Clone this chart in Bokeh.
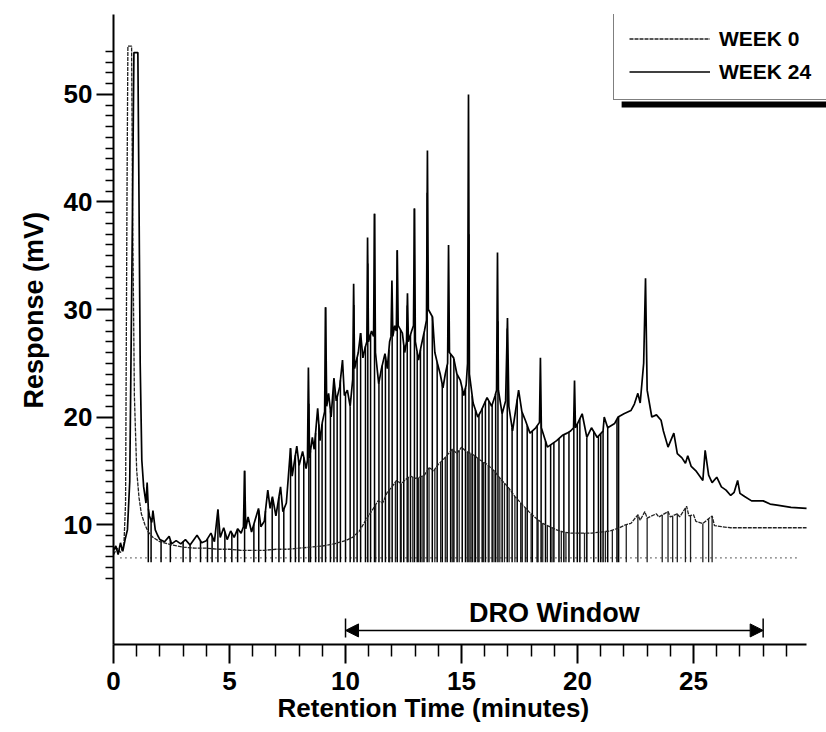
import numpy as np
from bokeh.plotting import figure
from bokeh.models import (Range1d, FixedTicker, Legend, LegendItem, Arrow, NormalHead,
                          Label, BoxAnnotation, Title)
from bokeh.embed import file_html
from bokeh.resources import INLINE

# ---------------- data ----------------
series_names = ["WEEK 0", "WEEK 24"]

week24_time = [0.0, 0.1, 0.2, 0.3, 0.4, 0.5, 0.6, 0.7, 0.8, 0.88,
               1.05, 1.1, 1.15, 1.22, 1.3, 1.4, 1.45, 1.5, 1.55, 1.65,
               1.7, 1.8, 1.9, 2.0, 2.2, 2.4, 2.5, 2.7, 2.9, 3.1,
               3.3, 3.6, 3.8, 4.0, 4.2, 4.35, 4.5, 4.6, 4.75, 4.9,
               5.05, 5.2, 5.35, 5.5, 5.6, 5.65, 5.7, 5.8, 5.95, 6.1,
               6.25, 6.35, 6.5, 6.65, 6.75, 6.85, 7.0, 7.2, 7.3, 7.45,
               7.63, 7.7, 7.9, 8.0, 8.15, 8.3, 8.36, 8.4, 8.45, 8.57,
               8.65, 8.8, 8.9, 9.0, 9.1, 9.14, 9.19, 9.27, 9.38, 9.5,
               9.6, 9.75, 9.87, 9.95, 10.08, 10.2, 10.31, 10.35, 10.39, 10.55,
               10.65, 10.75, 10.85, 10.92, 10.95, 10.99, 11.12, 11.21, 11.25, 11.29,
               11.43, 11.55, 11.7, 11.8, 11.9, 11.96, 12.0, 12.04, 12.12, 12.19,
               12.23, 12.27, 12.45, 12.55, 12.63, 12.67, 12.71, 12.85, 12.93, 12.97,
               13.01, 13.15, 13.25, 13.4, 13.49, 13.53, 13.57, 13.75, 13.85, 13.96,
               14.08, 14.2, 14.3, 14.4, 14.44, 14.48, 14.66, 14.8, 14.95, 15.1,
               15.2, 15.26, 15.3, 15.34, 15.5, 15.7, 15.85, 16.1, 16.3, 16.45,
               16.51, 16.55, 16.59, 16.75, 16.9, 16.98, 17.04, 17.2, 17.46, 17.6,
               17.75, 17.95, 18.2, 18.36, 18.4, 18.44, 18.7, 18.9, 19.1, 19.35,
               19.55, 19.7, 19.83, 19.87, 19.91, 20.2, 20.4, 20.6, 20.85, 21.1,
               21.15, 21.3, 21.6, 21.75, 22.0, 22.3, 22.45, 22.6, 22.7, 22.85,
               22.93, 23.0, 23.2, 23.4, 23.6, 23.7, 23.9, 24.15, 24.3, 24.5,
               24.65, 24.75, 24.9, 25.1, 25.4, 25.5, 25.65, 25.8, 26.0, 26.2,
               26.4, 26.6, 26.75, 26.9, 27.0, 27.2, 27.5, 28.0, 28.3, 28.6,
               29.2, 29.87]
week24_mv = [7.6, 8.0, 7.2, 8.3, 7.5, 8.6, 9.5, 14.0, 35.0, 53.9,
             53.9, 40.0, 25.0, 16.0, 13.5, 12.0, 13.9, 11.5, 10.8, 10.2,
             11.3, 9.5, 9.0, 8.6, 8.4, 8.9, 8.2, 8.5, 8.2, 8.6,
             8.1, 9.0, 8.3, 8.5, 9.2, 8.4, 11.4, 8.8, 9.7, 8.6,
             9.4, 8.8, 9.6, 9.2, 9.8, 15.0, 9.6, 10.7, 9.3, 10.4,
             11.5, 9.8, 10.3, 13.2, 11.5, 12.6, 10.8, 13.5, 11.2, 12.0,
             17.1, 14.5, 17.3, 15.5, 16.8, 15.2, 16.0, 24.6, 16.2, 18.1,
             17.0, 20.8, 17.8, 19.5, 20.5, 30.2, 21.0, 22.2, 20.0, 23.6,
             21.5, 22.8, 25.3, 22.0, 22.5, 21.0, 23.5, 32.4, 24.5, 26.0,
             27.8, 25.5, 26.5, 27.0, 36.7, 27.0, 28.0, 27.5, 38.9, 26.0,
             23.1, 24.5, 25.9, 24.5, 27.0, 27.5, 32.7, 27.5, 28.5, 28.0,
             35.5, 28.5, 27.8, 26.0, 27.0, 31.5, 27.0, 28.0, 28.5, 39.4,
             27.0, 25.3, 26.5, 28.0, 29.0, 44.8, 30.0, 29.3, 26.0, 25.0,
             24.0, 22.7, 24.0, 25.0, 36.0, 26.0, 25.5, 24.0, 23.4, 22.0,
             23.0, 25.0, 50.0, 24.0, 21.3, 20.0, 20.6, 21.8, 21.0, 22.0,
             22.5, 35.3, 22.5, 20.3, 21.5, 29.2, 21.0, 18.7, 22.5, 20.5,
             19.7, 18.5, 19.0, 19.5, 25.5, 19.0, 17.2, 17.5, 17.8, 18.3,
             18.5, 18.7, 19.0, 23.4, 19.0, 20.3, 18.1, 19.0, 18.1, 18.7,
             20.0, 19.0, 19.4, 20.0, 20.3, 20.6, 21.2, 22.2, 21.3, 25.0,
             32.9, 22.5, 20.0, 20.2, 19.7, 18.7, 17.2, 18.5, 16.6, 16.2,
             15.7, 16.4, 15.4, 15.0, 14.1, 16.9, 14.6, 13.9, 14.4, 13.5,
             13.2, 12.7, 13.0, 14.1, 12.9, 12.6, 12.2, 12.2, 11.9, 11.8,
             11.6, 11.5]
# retention times of the drop lines of WEEK 24
week24_drops = [1.5, 1.62, 2.05, 2.45, 3.0, 3.3, 3.75, 4.05, 4.25, 4.5,
                4.8, 5.1, 5.35, 5.65, 6.05, 6.26, 6.55, 6.84, 7.13, 7.34,
                7.63, 7.84, 7.99, 8.2, 8.42, 8.49, 8.71, 8.85, 8.99, 9.14,
                9.35, 9.5, 9.64, 9.78, 10.0, 10.2, 10.36, 10.5, 10.65, 10.86,
                10.96, 11.08, 11.25, 11.44, 11.58, 11.72, 11.87, 12.01, 12.23, 12.37,
                12.51, 12.66, 12.8, 12.97, 13.09, 13.23, 13.38, 13.52, 13.74, 13.95,
                14.17, 14.38, 14.53, 14.67, 14.81, 15.03, 15.17, 15.32, 15.46, 15.6,
                15.75, 15.89, 16.03, 16.18, 16.32, 16.47, 16.57, 16.75, 16.97, 17.18,
                17.4, 17.61, 17.83, 18.05, 18.26, 18.43, 18.62, 18.84, 18.98, 19.2,
                19.41, 19.63, 19.84, 19.99, 20.1, 20.4, 20.7, 20.9, 21.0, 21.1,
                21.3, 21.7, 21.77]

week0_time = [0.0, 0.15, 0.3, 0.45, 0.52, 0.58, 0.62, 0.78, 0.82, 0.9,
              1.0, 1.1, 1.2, 1.35, 1.5, 1.7, 2.0, 2.5, 3.0, 3.5,
              4.0, 4.5, 5.0, 5.5, 6.0, 6.5, 7.0, 7.5, 8.0, 8.5,
              9.0, 9.5, 10.0, 10.3, 10.6, 10.9, 11.2, 11.4, 11.6, 11.8,
              12.0, 12.2, 12.4, 12.6, 12.8, 13.0, 13.2, 13.4, 13.6, 13.8,
              14.0, 14.2, 14.4, 14.6, 14.8, 15.0, 15.2, 15.5, 15.8, 16.1,
              16.4, 16.7, 17.0, 17.3, 17.6, 17.9, 18.2, 18.5, 18.8, 19.1,
              19.4, 19.7, 20.0, 20.3, 20.6, 21.0, 21.4, 21.8, 22.1, 22.3,
              22.6, 22.7, 22.9, 23.0, 23.4, 23.5, 23.9, 24.0, 24.3, 24.4,
              24.7, 24.8, 25.0, 25.1, 25.4, 25.8, 25.9, 26.2, 26.6, 27.5,
              28.5, 29.87]
week0_mv = [7.2, 7.8, 7.4, 8.2, 12.0, 40.0, 54.5, 54.5, 40.0, 22.0,
            15.0, 12.5, 11.0, 10.0, 9.3, 8.8, 8.4, 8.1, 7.9, 7.8,
            7.8, 7.7, 7.7, 7.6, 7.6, 7.6, 7.7, 7.7, 7.8, 7.9,
            8.0, 8.2, 8.5, 8.8, 9.4, 10.5, 11.5, 12.2, 12.0, 13.0,
            13.5, 14.1, 13.8, 14.2, 14.5, 14.3, 14.4, 14.6, 15.3, 15.0,
            15.6, 16.0, 16.5, 17.0, 16.6, 17.2, 16.8, 16.5, 16.0, 15.6,
            15.0, 14.2, 13.5, 12.6, 11.9, 11.2, 10.6, 10.1, 9.8, 9.5,
            9.3, 9.2, 9.2, 9.2, 9.2, 9.3, 9.4, 9.7, 10.0, 10.1,
            10.9, 10.4, 11.2, 10.6, 11.0, 10.7, 11.2, 10.7, 11.0, 10.7,
            11.7, 10.8, 10.9, 10.3, 10.1, 10.8, 9.9, 9.8, 9.7, 9.7,
            9.7, 9.7]
# retention times of the drop lines of WEEK 0
week0_drops = [11.3, 11.9, 12.15, 12.4, 12.7, 12.9, 13.15, 13.3, 13.6, 13.85,
               14.1, 14.3, 14.6, 14.9, 15.25, 15.4, 15.55, 15.7, 15.95, 16.15,
               16.4, 16.65, 16.85, 17.05, 17.3, 17.55, 17.75, 18.0, 18.3, 18.5,
               18.7, 18.9, 19.3, 19.5, 20.3, 21.2, 21.5, 22.1, 22.6, 23.0,
               23.65, 23.9, 24.1, 24.3, 24.65, 24.87, 25.4, 25.65, 25.8]

drop_floor_mv = 6.5          # lower end of the drop lines
baseline_time = [0.3, 29.5]  # dotted integration baseline
baseline_mv = [6.9, 6.9]

x_major_ticks = [0, 5, 10, 15, 20, 25]
x_minor_ticks = [1, 2, 3, 4, 6, 7, 8, 9, 11, 12, 13, 14, 16, 17, 18, 19,
                 21, 22, 23, 24, 26, 27, 28, 29]
y_major_ticks = [10, 20, 30, 40, 50]
y_minor_ticks = [5, 6, 7, 8, 9, 11, 12, 13, 14, 15, 16, 17, 18, 19,
                 21, 22, 23, 24, 25, 26, 27, 28, 29, 31, 32, 33, 34, 35, 36, 37, 38, 39,
                 41, 42, 43, 44, 45, 46, 47, 48, 49, 51, 52, 53, 54]

x_title = "Retention Time (minutes)"
y_title = "Response (mV)"
dro_window = [10, 28]
dro_label = "DRO Window"

# ---------------- figure ----------------
FONT = "Liberation Sans"

p = figure(width=826, height=732, output_backend="svg", toolbar_location=None,
           x_range=Range1d(0, 30.73), y_range=Range1d(-1.16, 57.44),
           min_border_left=113, min_border_right=0, min_border_top=14,
           min_border_bottom=88)
p.outline_line_color = None
p.grid.grid_line_color = None
p.background_fill_color = "white"
p.border_fill_color = "white"

# drop lines
w24_top = np.interp(week24_drops, week24_time, week24_mv)
w0_top = np.interp(week0_drops, week0_time, week0_mv)
p.segment(x0=week24_drops, x1=week24_drops, y0=w24_top,
          y1=[drop_floor_mv] * len(week24_drops), line_color="black", line_width=1.5)
p.segment(x0=week0_drops, x1=week0_drops, y0=w0_top,
          y1=[drop_floor_mv] * len(week0_drops), line_color="#222222", line_width=1.3)

p.line(baseline_time, baseline_mv, line_color="black", line_width=1.2, line_dash="1 4")

r0 = p.line(week0_time, week0_mv, line_color="#222222", line_width=1.3, line_dash="4 1")
r24 = p.line(week24_time, week24_mv, line_color="black", line_width=1.7)

# axes
for ax in (p.xaxis[0], p.yaxis[0]):
    ax.axis_line_width = 2
    ax.major_tick_line_width = 2
    ax.minor_tick_line_width = 1.5
    ax.major_tick_in = 0
    ax.minor_tick_in = 0
    ax.major_label_text_font = FONT
    ax.major_label_text_font_style = "bold"
    ax.major_label_text_font_size = "26px"
    ax.major_label_text_color = "black"

p.xaxis.ticker = FixedTicker(ticks=x_major_ticks, minor_ticks=x_minor_ticks)
p.yaxis.ticker = FixedTicker(ticks=y_major_ticks, minor_ticks=y_minor_ticks)
p.xaxis.bounds = (0, 29.87)
p.xaxis.major_tick_out = 19
p.xaxis.minor_tick_out = 12
p.yaxis.major_tick_out = 17
p.yaxis.minor_tick_out = 8
p.xaxis.major_label_standoff = 8
p.yaxis.major_label_standoff = 4

# axis titles as side-panel titles (offset like the reference)
p.add_layout(Title(text=x_title, align="left", offset=164, vertical_align="top",
                   standoff=0, text_font=FONT, text_font_style="bold",
                   text_font_size="26px", text_color="black"), "below")
p.add_layout(Title(text=y_title, align="left", offset=236, vertical_align="bottom",
                   standoff=24, text_font=FONT, text_font_style="bold",
                   text_font_size="27px", text_color="black"), "left")

# DRO window annotation
p.segment(x0=dro_window, x1=dro_window, y0=[-0.5, -0.5], y1=[1.26, 1.26],
          line_color="black", line_width=1.5)
p.add_layout(Arrow(x_start=dro_window[0], x_end=dro_window[1], y_start=0.15, y_end=0.15,
                   line_width=1.5, line_color="black",
                   start=NormalHead(size=13, fill_color="black", line_color="black"),
                   end=NormalHead(size=13, fill_color="black", line_color="black")))
p.add_layout(Label(x=sum(dro_window) / 2, y=1.75, text=dro_label, text_align="center",
                   text_baseline="middle", text_font=FONT, text_font_style="bold",
                   text_font_size="27px", text_color="black"))

# legend shadow + legend
p.add_layout(BoxAnnotation(left=21.9, right=31.0, top=49.35, bottom=48.79,
                           fill_color="black", fill_alpha=1.0, line_color=None))
legend = Legend(items=[LegendItem(label=series_names[0], renderers=[r0]),
                       LegendItem(label=series_names[1], renderers=[r24])],
                location=(500, 544), orientation="vertical",
                padding=15, margin=0, spacing=8,
                glyph_width=81, glyph_height=25, label_height=25, label_width=110,
                label_standoff=9,
                label_text_font=FONT, label_text_font_style="bold",
                label_text_font_size="21px", label_text_color="black",
                border_line_color="black", border_line_width=1.5,
                background_fill_color="white", background_fill_alpha=1.0)
p.add_layout(legend)

open("out.html", "w").write(file_html(p, INLINE))
